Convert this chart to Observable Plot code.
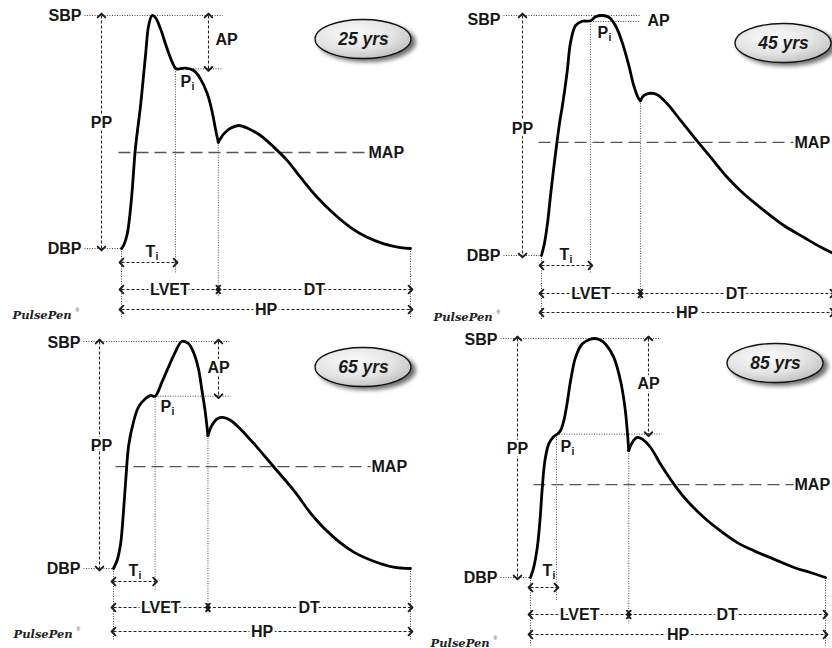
<!DOCTYPE html>
<html>
<head>
<meta charset="utf-8">
<script src="https://cdn.jsdelivr.net/npm/d3@7"></script>
<script src="https://cdn.jsdelivr.net/npm/@observablehq/plot@0.6"></script>
<style>
  body { margin: 0; background: #fff; }
  #wrap { position: relative; width: 832px; height: 648px; overflow: hidden; background: #fff; }
  #wrap svg { position: absolute; overflow: visible; }
</style>
</head>
<body>
<div id="wrap"></div>
<script>
// ---- Data (t = fraction of heart period, p = fraction of pulse pressure: 0 = DBP, 1 = SBP) ----
const ages = ["25 yrs", "45 yrs", "65 yrs", "85 yrs"];

const curve25 = [[0,0],[0.008,0.015],[0.020,0.063],[0.034,0.206],[0.048,0.428],[0.066,0.614],[0.083,0.828],[0.094,0.957],[0.106,1.0],[0.118,0.990],[0.135,0.943],[0.158,0.857],[0.181,0.785],[0.190,0.771],[0.221,0.774],[0.250,0.764],[0.273,0.728],[0.297,0.664],[0.314,0.585],[0.325,0.514],[0.335,0.456],[0.354,0.492],[0.377,0.516],[0.406,0.528],[0.440,0.514],[0.481,0.485],[0.527,0.435],[0.573,0.378],[0.619,0.306],[0.677,0.220],[0.735,0.149],[0.792,0.091],[0.850,0.048],[0.908,0.020],[0.965,0.004],[1,0]];

const curve45 = [[0,0],[0.010,0.050],[0.021,0.138],[0.031,0.250],[0.041,0.354],[0.053,0.471],[0.063,0.560],[0.072,0.625],[0.088,0.764],[0.100,0.889],[0.117,0.958],[0.140,0.976],[0.168,0.978],[0.186,0.995],[0.209,1.0],[0.231,0.993],[0.254,0.958],[0.277,0.889],[0.300,0.792],[0.317,0.708],[0.333,0.656],[0.340,0.645],[0.352,0.667],[0.375,0.676],[0.398,0.670],[0.432,0.632],[0.478,0.563],[0.524,0.493],[0.581,0.410],[0.638,0.326],[0.695,0.257],[0.764,0.188],[0.833,0.125],[0.901,0.076],[0.959,0.035],[1,0.01]];

const curve65 = [[0,0],[0.012,0.035],[0.024,0.109],[0.033,0.241],[0.042,0.403],[0.051,0.542],[0.067,0.644],[0.084,0.711],[0.107,0.748],[0.124,0.762],[0.140,0.759],[0.163,0.821],[0.185,0.887],[0.208,0.953],[0.230,1.0],[0.253,0.990],[0.269,0.953],[0.286,0.880],[0.297,0.792],[0.309,0.689],[0.318,0.586],[0.331,0.630],[0.350,0.660],[0.372,0.665],[0.395,0.652],[0.427,0.615],[0.483,0.535],[0.540,0.447],[0.607,0.344],[0.674,0.227],[0.741,0.138],[0.809,0.072],[0.876,0.032],[0.943,0.006],[1,0]];

const curve85 = [[0,0],[0.011,0.043],[0.023,0.126],[0.032,0.237],[0.040,0.376],[0.049,0.490],[0.062,0.559],[0.079,0.590],[0.091,0.600],[0.102,0.615],[0.113,0.657],[0.124,0.728],[0.136,0.824],[0.153,0.922],[0.175,0.977],[0.200,0.996],[0.218,1.0],[0.236,0.994],[0.254,0.977],[0.282,0.922],[0.305,0.824],[0.320,0.713],[0.328,0.615],[0.333,0.531],[0.345,0.565],[0.362,0.586],[0.379,0.579],[0.407,0.544],[0.441,0.474],[0.486,0.391],[0.531,0.321],[0.588,0.251],[0.644,0.195],[0.701,0.146],[0.757,0.112],[0.825,0.077],[0.893,0.042],[0.949,0.021],[1,0]];

const curves = [curve25, curve45, curve65, curve85];
const piT    = [0.187, 0.168, 0.140, 0.088];   // time of inflection point Pi
const piP    = [0.771, 0.975, 0.759, 0.600];   // pressure at Pi
const notchT = [0.335, 0.340, 0.318, 0.333];   // dicrotic notch (end of LVET)
const mapP   = [0.412, 0.471, 0.449, 0.389];   // mean arterial pressure level
const showAPArrow = [true, false, true, true];
const termSBP = "SBP", termDBP = "DBP", termPP = "PP", termAP = "AP", termMAP = "MAP";
const termLVET = "LVET", termDT = "DT", termHP = "HP", logoText = "PulsePen";

// ---- Layout (pixels inside each panel) ----
const layout = [
  {left:0,   top:0,   W:420, H:320, x0:121, x1:410, yS:15, yD:248, refStart:84, refEnd:222, ppX:101, apX:208,
   apLabel:[215,39,"start"], sbpDy:0, mapFrom:118, mapTo:367, rows:{ti:14, piEnd:24, lvet:41, notchEnd:49, hp:61, vEnd:70},
   ppLabel:[101,122], piLabel:[180,81], tiLabel:[145,251], logo:[12,318], badge:[363,39]},
  {left:420, top:0,   W:412, H:320, x0:121, x1:412, yS:15, yD:255, refStart:83, refEnd:220, ppX:102, apX:null,
   apLabel:[227,20,"start"], sbpDy:4, mapFrom:118, mapTo:373, rows:{ti:10, piEnd:18, lvet:38, notchEnd:45, hp:57, vEnd:65},
   ppLabel:[102,128], piLabel:[177,32], tiLabel:[139,254], logo:[13,320], badge:[363,43]},
  {left:0,   top:320, W:420, H:328, x0:113, x1:410, yS:21, yD:248, refStart:83, refEnd:230, ppX:99, apX:218,
   apLabel:[218,47,"middle"], sbpDy:1, mapFrom:115, mapTo:370, rows:{ti:13, piEnd:22, lvet:39, notchEnd:45, hp:63, vEnd:72},
   ppLabel:[101,125], piLabel:[160,86], tiLabel:[128,250], logo:[13,317], badge:[363,47]},
  {left:420, top:320, W:412, H:328, x0:110, x1:405, yS:18, yD:257, refStart:80, refEnd:240, ppX:97, apX:228,
   apLabel:[228,63,"middle"], sbpDy:1, mapFrom:113, mapTo:373, rows:{ti:10, piEnd:23, lvet:37, notchEnd:46, hp:57, vEnd:68},
   ppLabel:[97,128], piLabel:[140,126], tiLabel:[122,250], logo:[10,326], badge:[355,43]}
];

const FONT = "'Liberation Sans', Arial, Helvetica, sans-serif";
const INK = "#161616";

function badgeMark(cx, cy, id) {
  return (index, scales) => {
    const X = scales.x(cx), Y = scales.y(cy);
    const g = d3.create("svg:g");
    const defs = g.append("defs");
    const lg = defs.append("radialGradient").attr("id", id).attr("cx", "40%").attr("cy", "35%").attr("r", "75%");
    lg.append("stop").attr("offset", "0").attr("stop-color", "#fbfbfb");
    lg.append("stop").attr("offset", "0.55").attr("stop-color", "#e4e4e4");
    lg.append("stop").attr("offset", "1").attr("stop-color", "#b9b9b9");
    const f = defs.append("filter").attr("id", id + "s").attr("x", "-30%").attr("y", "-40%").attr("width", "160%").attr("height", "180%");
    f.append("feGaussianBlur").attr("stdDeviation", 2.2);
    g.append("ellipse").attr("cx", X + 4).attr("cy", Y + 3).attr("rx", 49).attr("ry", 20)
      .attr("fill", "#707070").attr("filter", `url(#${id}s)`);
    g.append("ellipse").attr("cx", X).attr("cy", Y).attr("rx", 48).attr("ry", 19.5)
      .attr("fill", `url(#${id})`).attr("stroke", "#111").attr("stroke-width", 1.3);
    return g.node();
  };
}

function makePanel(i) {
  const L = layout[i];
  const w = L.x1 - L.x0, h = L.yD - L.yS;
  const tx = px => (px - L.x0) / w;
  const py = y => (L.yD - y) / h;
  const below = off => -off / h;
  const pts = curves[i];
  let k = 0;
  pts.forEach((d, j) => { if (Math.abs(d[0] - notchT[i]) < Math.abs(pts[k][0] - notchT[i])) k = j; });
  const rows = [
    ...pts.slice(0, k + 1).map(([t, p]) => ({t, p, seg: "systole"})),
    ...pts.slice(k).map(([t, p]) => ({t, p, seg: "diastole"}))
  ];
  const notchP = pts[k][1];
  const endP = pts[pts.length - 1][1];
  const R = L.rows;

  const dotted = [
    {x1: tx(L.refStart), y1: 1, x2: tx(L.refEnd), y2: 1},
    {x1: tx(L.refStart), y1: 0, x2: 0, y2: 0},
    {x1: piT[i], y1: piP[i], x2: tx(L.refEnd), y2: piP[i]},
    {x1: 0, y1: 0, x2: 0, y2: below(R.vEnd)},
    {x1: piT[i], y1: piP[i], x2: piT[i], y2: below(R.piEnd)},
    {x1: notchT[i], y1: notchP, x2: notchT[i], y2: below(R.notchEnd)},
    {x1: 1, y1: endP, x2: 1, y2: below(R.vEnd)}
  ];

  const arrows = [
    {x1: tx(L.ppX), y1: 1, x2: tx(L.ppX), y2: 0},
    {x1: 0, y1: below(R.ti), x2: piT[i], y2: below(R.ti)},
    {x1: 0, y1: below(R.lvet), x2: notchT[i], y2: below(R.lvet)},
    {x1: notchT[i], y1: below(R.lvet), x2: 1, y2: below(R.lvet)},
    {x1: 0, y1: below(R.hp), x2: 1, y2: below(R.hp)}
  ];
  if (showAPArrow[i]) arrows.push({x1: tx(L.apX), y1: 1, x2: tx(L.apX), y2: piP[i]});
  const eps = 0.003;
  const heads = arrows.flatMap(a => {
    const dx = a.x2 - a.x1, dy = a.y2 - a.y1, n = Math.hypot(dx, dy);
    const ux = dx / n * eps, uy = dy / n * eps;
    return [
      {x1: a.x2 - ux, y1: a.y2 - uy, x2: a.x2, y2: a.y2},
      {x1: a.x1 + ux, y1: a.y1 + uy, x2: a.x1, y2: a.y1}
    ];
  });

  const common = {fontFamily: FONT, fontWeight: "bold", fill: INK, fontSize: 16};
  const haloed = {...common, stroke: "#fff", strokeWidth: 5};

  const plot = Plot.plot({
    width: L.W, height: L.H,
    marginLeft: L.x0, marginRight: L.W - L.x1, marginTop: L.yS, marginBottom: L.H - L.yD,
    x: {domain: [0, 1], axis: null},
    y: {domain: [0, 1], axis: null},
    style: {fontFamily: FONT, overflow: "visible", background: "transparent"},
    marks: [
      // dotted reference lines
      Plot.link(dotted, {x1: "x1", y1: "y1", x2: "x2", y2: "y2", stroke: "#4a4a4a", strokeWidth: 1, strokeDasharray: "1,1.5"}),
      // MAP dashed line
      Plot.link([{x1: tx(L.mapFrom), x2: tx(L.mapTo), y: mapP[i]}], {x1: "x1", x2: "x2", y1: "y", y2: "y", stroke: "#555", strokeWidth: 1.3, strokeDasharray: "12,6"}),
      // dashed arrow shafts
      Plot.link(arrows, {x1: "x1", y1: "y1", x2: "x2", y2: "y2", stroke: "#222", strokeWidth: 1.1, strokeDasharray: "3,2"}),
      // arrow heads
      Plot.link(heads, {x1: "x1", y1: "y1", x2: "x2", y2: "y2", stroke: "#1a1a1a", strokeWidth: 1.9, markerEnd: "arrow"}),
      // the pressure wave
      Plot.line(rows, {x: "t", y: "p", z: "seg", curve: "catmull-rom", stroke: "#000", strokeWidth: 2.8, strokeLinejoin: "round", strokeLinecap: "round"}),
      // badge
      badgeMark(tx(L.badge[0]), py(L.badge[1]), "badge" + i),
      Plot.text([ages[i]], {x: tx(L.badge[0]), y: py(L.badge[1]), text: d => d, fontFamily: FONT, fontWeight: "bold", fontStyle: "italic", fontSize: 17.5, fill: "#1a1a1a"}),
      // SBP / DBP
      Plot.text([termSBP], {...common, x: tx(L.refStart), y: 1, text: d => d, textAnchor: "end", dx: -3, dy: L.sbpDy}),
      Plot.text([termDBP], {...common, x: tx(L.refStart), y: 0, text: d => d, textAnchor: "end", dx: -3}),
      // PP
      Plot.text([termPP], {...haloed, x: tx(L.ppLabel[0]), y: py(L.ppLabel[1]), text: d => d}),
      // AP
      Plot.text([termAP], {...(L.apLabel[2] === "middle" ? haloed : common), x: tx(L.apLabel[0]), y: py(L.apLabel[1]), text: d => d, textAnchor: L.apLabel[2]}),
      // MAP
      Plot.text([termMAP], {...common, x: tx(L.mapTo), y: mapP[i], text: d => d, textAnchor: "start", dx: 1}),
      // P_i
      Plot.text(["P"], {...common, x: tx(L.piLabel[0]), y: py(L.piLabel[1]), text: d => d, textAnchor: "start"}),
      Plot.text(["i"], {...common, fontSize: 10.5, x: tx(L.piLabel[0]), y: py(L.piLabel[1]), text: d => d, textAnchor: "start", dx: 11, dy: 5}),
      // T_i
      Plot.text(["T"], {...common, x: tx(L.tiLabel[0]), y: py(L.tiLabel[1]), text: d => d, textAnchor: "start"}),
      Plot.text(["i"], {...common, fontSize: 10.5, x: tx(L.tiLabel[0]), y: py(L.tiLabel[1]), text: d => d, textAnchor: "start", dx: 10, dy: 5}),
      // LVET, DT, HP
      Plot.text([termLVET], {...haloed, x: notchT[i] / 2, y: below(R.lvet), text: d => d}),
      Plot.text([termDT], {...haloed, x: (notchT[i] + 1) / 2, y: below(R.lvet), text: d => d}),
      Plot.text([termHP], {...haloed, x: 0.5, y: below(R.hp), text: d => d}),
      // logo
      Plot.text([logoText], {x: tx(L.logo[0]), y: py(L.logo[1]), text: d => d, textAnchor: "start", lineAnchor: "bottom",
        fontFamily: "'DejaVu Serif', serif", fontStyle: "italic", fontWeight: "bold", fontSize: 11.5, fill: "#222"}),
      Plot.text(["®"], {x: tx(L.logo[0]), y: py(L.logo[1]), text: d => d, textAnchor: "start", lineAnchor: "bottom",
        fontFamily: FONT, fontSize: 5, fill: "#444", dx: 63, dy: -7})
    ]
  });
  plot.style.left = L.left + "px";
  plot.style.top = L.top + "px";
  return plot;
}

const wrap = document.getElementById("wrap");
for (let i = 0; i < 4; i++) wrap.appendChild(makePanel(i));
</script>
</body>
</html>
